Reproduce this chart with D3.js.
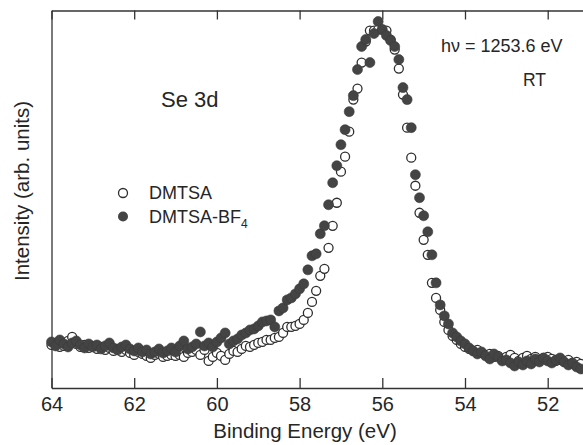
<!DOCTYPE html>
<html>
<head>
<meta charset="utf-8">
<script src="https://cdn.jsdelivr.net/npm/d3@7"></script>
<style>
body { margin: 0; background: #fff; }
text { font-family: "Liberation Sans", Arial, sans-serif; fill: #262626; }
.axis path, .axis line { stroke: #333; stroke-width: 1.3; }
</style>
</head>
<body>
<div class="container"></div>
<script>
// binding energy grid (eV), shared by both spectra
var energy = [
	64.0, 63.9, 63.8, 63.7, 63.6, 63.5, 63.4, 63.3, 63.2, 63.1,
	63.0, 62.9, 62.8, 62.7, 62.6, 62.5, 62.4, 62.3, 62.2, 62.1,
	62.0, 61.9, 61.8, 61.7, 61.6, 61.5, 61.4, 61.3, 61.2, 61.1,
	61.0, 60.9, 60.8, 60.7, 60.6, 60.5, 60.4, 60.3, 60.2, 60.1,
	60.0, 59.9, 59.8, 59.7, 59.6, 59.5, 59.4, 59.3, 59.2, 59.1,
	59.0, 58.9, 58.8, 58.7, 58.6, 58.5, 58.4, 58.3, 58.2, 58.1,
	58.0, 57.9, 57.8, 57.7, 57.6, 57.5, 57.4, 57.3, 57.2, 57.1,
	57.0, 56.9, 56.8, 56.7, 56.6, 56.5, 56.4, 56.3, 56.2, 56.1,
	56.0, 55.9, 55.8, 55.7, 55.6, 55.5, 55.4, 55.3, 55.2, 55.1,
	55.0, 54.9, 54.8, 54.7, 54.6, 54.5, 54.4, 54.3, 54.2, 54.1,
	54.0, 53.9, 53.8, 53.7, 53.6, 53.5, 53.4, 53.3, 53.2, 53.1,
	53.0, 52.9, 52.8, 52.7, 52.6, 52.5, 52.4, 52.3, 52.2, 52.1,
	52.0, 51.9, 51.8, 51.7, 51.6, 51.5, 51.4, 51.3, 51.2
];

// Se 3d intensity, arb. units (open circles)
var dmtsa = [
	430, 450, 410, 420, 470, 510, 440, 410, 430, 400,
	420, 390, 410, 380, 400, 370, 390, 360, 380, 350,
	330, 360, 340, 320, 300, 330, 340, 310, 320, 330,
	320, 330, 310, 350, 360, 380, 330, 380, 270, 310,
	350, 320, 280, 340, 370, 360, 390, 420, 410, 430,
	450, 460, 480, 480, 500, 510, 550, 610, 610, 620,
	640, 680, 750, 860, 970, 1120, 1190, 1400, 1620, 1850,
	2160, 2310, 2560, 2880, 2990, 3250, 3460, 3570, 3570, 3580,
	3580, 3570, 3480, 3380, 3190, 2930, 2600, 2300, 2020, 1750,
	1480, 1330, 1050, 900, 780, 660, 580, 520, 480, 440,
	410, 390, 370, 380, 350, 330, 340, 310, 320, 290,
	310, 330, 300, 270, 300, 320, 290, 310, 280, 300,
	310, 290, 270, 280, 260, 280, 250, 260, 240
];

// Se 3d intensity, arb. units (filled circles)
var dmtsaBF4 = [
	460, 420, 480, 440, 410, 450, 470, 430, 400, 440,
	410, 430, 390, 420, 450, 400, 380, 410, 430, 390,
	370, 400, 360, 380, 340, 360, 390, 350, 370, 400,
	360, 420, 470, 390, 410, 440, 560, 420, 450, 410,
	460, 500, 550, 440, 470, 490, 530, 550, 580, 590,
	620, 660, 670, 680, 610, 770, 800, 880, 900, 940,
	990, 1040, 1180, 1320, 1340, 1540, 1620, 1830, 2050, 2220,
	2430, 2580, 2760, 2920, 3180, 3410, 3480, 3250, 3540, 3660,
	3580, 3520, 3470, 3410, 3280, 3000, 2880, 2600, 2130, 1900,
	1720, 1560, 1330, 1050, 830, 720, 640, 550, 510, 470,
	440, 400, 370, 340, 360, 320, 290, 340, 310, 270,
	280, 250, 220, 260, 230, 270, 240, 290, 260, 300,
	270, 250, 280, 300, 260, 230, 250, 210, 190
];

var xTicks = [64, 62, 60, 58, 56, 54, 52];
var xDomain = [64, 51];
var yDomain = [0, 3770];

const WIDTH = 583;
const HEIGHT = 445;
const LEFT = 51.5;
const TOP = 10.5;
const BOTTOM = 388;
const PX_PER_EV = 41.35;

var svg = d3.select('.container').append('svg')
	.attr('width', WIDTH)
	.attr('height', HEIGHT);

var xScale = d3.scaleLinear()
	.domain(xDomain)
	.range([LEFT, LEFT + (xDomain[0] - xDomain[1]) * PX_PER_EV]);

var yScale = d3.scaleLinear()
	.domain(yDomain)
	.range([BOTTOM, TOP]);

var toPoints = function(values){
	return values.map(function(v, i){ return {e: energy[i], v: v}; });
};

// frame: bottom axis with labels, top axis with inward ticks, bare left line
svg.append('g')
	.attr('class', 'axis')
	.attr('transform', 'translate(0,' + BOTTOM + ')')
	.call(d3.axisBottom(xScale).tickValues(xTicks)
		.tickSizeInner(-10).tickSizeOuter(0).tickPadding(9))
	.call(function(g){
		g.selectAll('text').style('font-size', '20px')
			.style('font-family', '"Liberation Sans", Arial, sans-serif')
			.attr('fill', '#262626');
	});

svg.append('g')
	.attr('class', 'axis')
	.attr('transform', 'translate(0,' + TOP + ')')
	.call(d3.axisTop(xScale).tickValues(xTicks)
		.tickSizeInner(-9).tickSizeOuter(0).tickFormat(''));

svg.append('g')
	.attr('class', 'axis')
	.attr('transform', 'translate(' + LEFT + ',0)')
	.call(d3.axisLeft(yScale).tickValues([]).tickSizeOuter(0));

// markers: open first, filled drawn on top
svg.append('g').selectAll('circle')
	.data(toPoints(dmtsa))
	.enter().append('circle')
	.attr('cx', function(d){ return xScale(d.e); })
	.attr('cy', function(d){ return yScale(d.v); })
	.attr('r', 4.5)
	.attr('fill', '#fff')
	.attr('stroke', '#2e2e2e')
	.attr('stroke-width', 1.3);

svg.append('g').selectAll('circle')
	.data(toPoints(dmtsaBF4))
	.enter().append('circle')
	.attr('cx', function(d){ return xScale(d.e); })
	.attr('cy', function(d){ return yScale(d.v); })
	.attr('r', 5)
	.attr('fill', '#444')
	.attr('stroke', '#3a3a3a')
	.attr('stroke-width', 0.6);

// axis titles
svg.append('text')
	.attr('x', 305)
	.attr('y', 438)
	.attr('text-anchor', 'middle')
	.style('font-size', '20.5px')
	.text('Binding Energy (eV)');

svg.append('text')
	.attr('transform', 'translate(29,191) rotate(-90)')
	.attr('text-anchor', 'middle')
	.style('font-size', '20.5px')
	.text('Intensity (arb. units)');

// annotations
svg.append('text')
	.attr('x', 161)
	.attr('y', 107)
	.style('font-size', '22px')
	.text('Se 3d');

svg.append('text')
	.attr('x', 441)
	.attr('y', 52)
	.style('font-size', '18px')
	.text('h\u03bd = 1253.6 eV');

svg.append('text')
	.attr('x', 523)
	.attr('y', 86)
	.style('font-size', '17.5px')
	.text('RT');

// legend
var legend = svg.append('g');
legend.append('circle')
	.attr('cx', 123).attr('cy', 193).attr('r', 4.5)
	.attr('fill', '#fff').attr('stroke', '#2e2e2e').attr('stroke-width', 1.3);
legend.append('circle')
	.attr('cx', 123).attr('cy', 216.5).attr('r', 5)
	.attr('fill', '#444');
legend.append('text')
	.attr('x', 149).attr('y', 199)
	.style('font-size', '18px')
	.text('DMTSA');
var bfLabel = legend.append('text')
	.attr('x', 149).attr('y', 222.5)
	.style('font-size', '18px');
bfLabel.append('tspan').text('DMTSA-BF');
bfLabel.append('tspan')
	.attr('dy', 5)
	.style('font-size', '12px')
	.text('4');
</script>
</body>
</html>
